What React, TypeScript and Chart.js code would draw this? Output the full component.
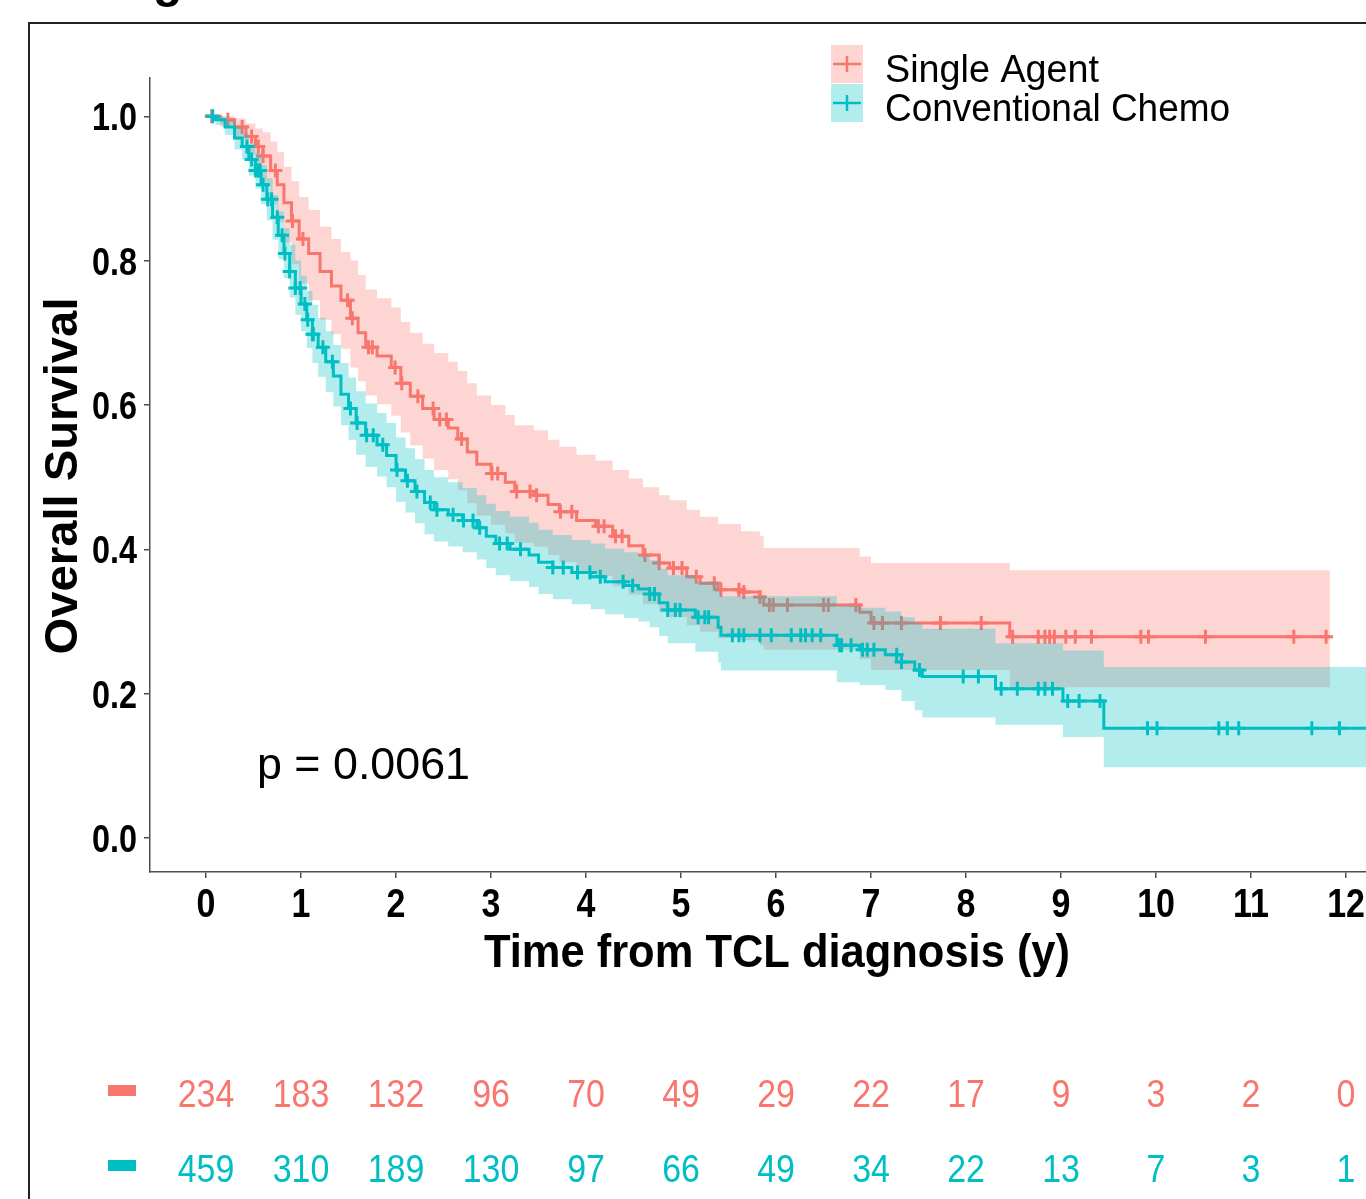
import React, { useEffect, useRef } from "react";
import { Chart, registerables } from "chart.js";

Chart.register(...registerables);

const RED = "#F8766D";
const CYAN = "#00BFC4";
const RED_FILL = "rgba(248,118,109,0.3)";
const CYAN_FILL = "rgba(0,191,196,0.3)";
const FONT = '"Liberation Sans", Arial, sans-serif';

// ---------- data ----------
const seriesNames = ["Single Agent", "Conventional Chemo"];
const xTicks = [0, 1, 2, 3, 4, 5, 6, 7, 8, 9, 10, 11, 12];
const yTicks = [0, 0.2, 0.4, 0.6, 0.8, 1.0];
const yTickLabels = ["0.0", "0.2", "0.4", "0.6", "0.8", "1.0"];
const riskSingle = [234, 183, 132, 96, 70, 49, 29, 22, 17, 9, 3, 2, 0];
const riskChemo = [459, 310, 189, 130, 97, 66, 49, 34, 22, 13, 7, 3, 1];
const pValueText = "p = 0.0061";
const xTitle = "Time from TCL diagnosis (y)";
const yTitle = "Overall Survival";

// Single Agent KM step curve (time, survival, upper CI, lower CI)
const redT = [0, 0.15, 0.3, 0.42, 0.52, 0.6, 0.68, 0.75, 0.82, 0.9, 0.98, 1.08, 1.2, 1.32, 1.42, 1.52, 1.6, 1.68, 1.8, 1.95, 2.05, 2.15, 2.28, 2.4, 2.55, 2.65, 2.75, 2.85, 3.0, 3.15, 3.25, 3.45, 3.6, 3.72, 3.9, 4.1, 4.28, 4.45, 4.6, 4.77, 4.88, 5.06, 5.2, 5.39, 5.63, 5.83, 5.87, 6.88, 7.0, 8.46, 11.83];
const redS = [1.0, 0.995, 0.985, 0.972, 0.958, 0.945, 0.925, 0.905, 0.88, 0.855, 0.83, 0.81, 0.785, 0.765, 0.745, 0.72, 0.7, 0.68, 0.668, 0.652, 0.63, 0.612, 0.595, 0.58, 0.568, 0.553, 0.535, 0.518, 0.505, 0.493, 0.48, 0.475, 0.462, 0.452, 0.44, 0.432, 0.418, 0.405, 0.392, 0.381, 0.374, 0.362, 0.353, 0.344, 0.341, 0.334, 0.323, 0.313, 0.298, 0.279, 0.279];
const redU = [1.0, 1.0, 0.997, 0.99, 0.983, 0.978, 0.965, 0.95, 0.93, 0.91, 0.888, 0.87, 0.847, 0.83, 0.812, 0.8, 0.78, 0.76, 0.748, 0.735, 0.715, 0.7, 0.685, 0.672, 0.66, 0.647, 0.63, 0.613, 0.6, 0.586, 0.572, 0.565, 0.552, 0.542, 0.531, 0.523, 0.51, 0.498, 0.486, 0.475, 0.468, 0.455, 0.445, 0.435, 0.425, 0.418, 0.402, 0.39, 0.381, 0.371, 0.371];
const redL = [1.0, 0.985, 0.968, 0.948, 0.928, 0.905, 0.878, 0.853, 0.825, 0.795, 0.768, 0.745, 0.718, 0.698, 0.678, 0.652, 0.633, 0.613, 0.601, 0.585, 0.562, 0.544, 0.526, 0.51, 0.497, 0.482, 0.464, 0.447, 0.434, 0.422, 0.409, 0.404, 0.392, 0.382, 0.37, 0.363, 0.349, 0.337, 0.324, 0.313, 0.306, 0.295, 0.286, 0.277, 0.274, 0.267, 0.261, 0.248, 0.233, 0.209, 0.209];
const redCensor = [0.06, 0.23, 0.38, 0.48, 0.55, 0.6, 0.73, 0.91, 1.02, 1.49, 1.54, 1.71, 1.75, 1.99, 2.06, 2.23, 2.39, 2.46, 2.53, 2.69, 3.01, 3.07, 3.27, 3.41, 3.48, 3.73, 3.85, 4.13, 4.19, 4.31, 4.38, 4.62, 4.77, 4.92, 5.01, 5.16, 5.35, 5.42, 5.61, 5.66, 5.83, 5.93, 5.97, 6.12, 6.5, 6.55, 6.84, 7.03, 7.12, 7.32, 7.73, 8.16, 8.49, 8.76, 8.83, 8.88, 8.93, 9.05, 9.15, 9.32, 9.84, 9.92, 10.52, 11.45, 11.79];

// Conventional Chemo KM step curve
const cyanT = [0, 0.1, 0.2, 0.3, 0.38, 0.45, 0.52, 0.58, 0.64, 0.7, 0.76, 0.82, 0.88, 0.94, 1.0, 1.06, 1.12, 1.18, 1.26, 1.34, 1.42, 1.5, 1.58, 1.68, 1.8, 1.9, 2.0, 2.1, 2.2, 2.3, 2.4, 2.55, 2.7, 2.85, 2.95, 3.05, 3.2, 3.4, 3.5, 3.65, 3.85, 4.05, 4.2, 4.4, 4.55, 4.67, 4.77, 4.86, 5.15, 5.39, 5.42, 6.64, 6.88, 7.15, 7.32, 7.46, 7.54, 8.31, 9.02, 9.45, 12.6];
const cyanS = [1.0, 0.995, 0.985, 0.97, 0.958, 0.94, 0.925, 0.905, 0.885, 0.86, 0.835, 0.81, 0.785, 0.762, 0.74, 0.718, 0.698, 0.68, 0.66, 0.64, 0.615, 0.595, 0.575, 0.558, 0.545, 0.53, 0.51, 0.495, 0.48, 0.465, 0.455, 0.448, 0.44, 0.43, 0.418, 0.408, 0.4, 0.392, 0.382, 0.375, 0.368, 0.362, 0.355, 0.35, 0.345, 0.338, 0.326, 0.316, 0.306, 0.292, 0.281, 0.267, 0.261, 0.254, 0.244, 0.233, 0.224, 0.207, 0.19, 0.152, 0.152];
const cyanU = [1.0, 1.0, 0.995, 0.985, 0.976, 0.962, 0.949, 0.932, 0.914, 0.891, 0.868, 0.845, 0.822, 0.8, 0.779, 0.758, 0.739, 0.721, 0.702, 0.683, 0.658, 0.638, 0.619, 0.602, 0.589, 0.575, 0.555, 0.54, 0.525, 0.51, 0.5, 0.493, 0.485, 0.475, 0.463, 0.453, 0.445, 0.437, 0.427, 0.42, 0.413, 0.408, 0.401, 0.396, 0.391, 0.385, 0.373, 0.364, 0.355, 0.342, 0.335, 0.322, 0.319, 0.314, 0.306, 0.298, 0.29, 0.27, 0.26, 0.237, 0.237];
const cyanL = [1.0, 0.988, 0.974, 0.954, 0.94, 0.918, 0.9, 0.878, 0.856, 0.829, 0.802, 0.776, 0.749, 0.725, 0.702, 0.679, 0.658, 0.639, 0.618, 0.598, 0.572, 0.552, 0.531, 0.514, 0.501, 0.486, 0.466, 0.451, 0.436, 0.421, 0.411, 0.404, 0.396, 0.386, 0.374, 0.364, 0.356, 0.348, 0.338, 0.331, 0.324, 0.317, 0.31, 0.305, 0.3, 0.292, 0.28, 0.27, 0.258, 0.243, 0.232, 0.216, 0.212, 0.205, 0.19, 0.177, 0.167, 0.157, 0.14, 0.098, 0.098];
const cyanCensor = [0.07, 0.43, 0.48, 0.52, 0.55, 0.57, 0.6, 0.65, 0.69, 0.75, 0.8, 0.83, 0.88, 0.94, 0.99, 1.04, 1.07, 1.12, 1.13, 1.23, 1.33, 1.52, 1.59, 1.69, 1.76, 1.86, 2.01, 2.12, 2.22, 2.36, 2.43, 2.6, 2.71, 2.81, 2.88, 3.09, 3.17, 3.31, 3.65, 3.76, 3.91, 4.04, 4.15, 4.39, 4.49, 4.67, 4.72, 4.86, 4.94, 4.99, 5.18, 5.25, 5.29, 5.54, 5.61, 5.66, 5.83, 5.95, 6.16, 6.26, 6.31, 6.38, 6.47, 6.67, 6.69, 6.79, 6.91, 6.96, 7.03, 7.27, 7.32, 7.51, 7.97, 8.13, 8.37, 8.54, 8.76, 8.83, 8.91, 9.07, 9.19, 9.41, 9.91, 10.01, 10.66, 10.75, 10.87, 11.64, 11.93];

// ---------- helpers ----------
const pts = (ts: number[], vs: number[]) => ts.map((t, i) => ({ x: t, y: vs[i] }));
const stepAt = (ts: number[], vs: number[], t: number) => {
  let v = vs[0];
  for (let i = 0; i < ts.length; i++) if (ts[i] <= t) v = vs[i];
  return v;
};
const censorPts = (cs: number[], ts: number[], vs: number[]) => cs.map((t) => ({ x: t, y: stepAt(ts, vs, t) }));

function txt(ctx: CanvasRenderingContext2D, s: string, x: number, y: number, font: string, color: string, align: CanvasTextAlign, sx: number) {
  ctx.save();
  ctx.font = font;
  ctx.fillStyle = color;
  ctx.textAlign = align;
  ctx.textBaseline = "alphabetic";
  ctx.translate(x, y);
  ctx.scale(sx, 1);
  ctx.fillText(s, 0, 0);
  ctx.restore();
}
function fitTxt(ctx: CanvasRenderingContext2D, s: string, x: number, y: number, font: string, color: string, align: CanvasTextAlign, width: number) {
  ctx.save();
  ctx.font = font;
  const w = ctx.measureText(s).width;
  ctx.restore();
  txt(ctx, s, x, y, font, color, align, width / w);
}

const overlay = {
  id: "overlay",
  beforeDraw(chart: any) {
    const ctx = chart.ctx as CanvasRenderingContext2D;
    ctx.save();
    ctx.fillStyle = "#ffffff";
    ctx.fillRect(0, 0, chart.width, chart.height);
    ctx.strokeStyle = "#222222";
    ctx.lineWidth = 2;
    ctx.strokeRect(29, 23, 3000, 3000);
    ctx.restore();
    // cut-off heading glyph at the very top
    txt(ctx, "g", 153, -3, `bold 48px ${FONT}`, "#000", "left", 1);
  },
  afterDraw(chart: any) {
    const ctx = chart.ctx as CanvasRenderingContext2D;
    const xs = chart.scales.x;
    const ys = chart.scales.y;
    const bold = (n: number) => `bold ${n}px ${FONT}`;
    const reg = (n: number) => `${n}px ${FONT}`;
    // y tick labels
    yTicks.forEach((v, i) => {
      const py = ys.getPixelForValue(v);
      txt(ctx, yTickLabels[i], 137, py + 14, bold(39), "#000", "right", 0.83);
    });
    // x tick labels
    xTicks.forEach((v) => {
      const px = xs.getPixelForValue(v);
      txt(ctx, String(v), px, 917, bold(40), "#000", "center", 0.85);
    });
    // axis titles
    fitTxt(ctx, xTitle, 777, 967, bold(47), "#000", "center", 586);
    ctx.save();
    ctx.translate(77, 476);
    ctx.rotate(-Math.PI / 2);
    fitTxt(ctx, yTitle, 0, 0, bold(46), "#000", "center", 357);
    ctx.restore();
    // p value
    fitTxt(ctx, pValueText, 257, 779, reg(44), "#000", "left", 213);
    // legend
    const legendItems = [
      { name: seriesNames[0], line: RED, fill: RED_FILL, top: 45 },
      { name: seriesNames[1], line: CYAN, fill: CYAN_FILL, top: 84 },
    ];
    legendItems.forEach((it) => {
      ctx.save();
      ctx.fillStyle = it.fill;
      ctx.fillRect(831, it.top, 32, 38);
      ctx.strokeStyle = it.line;
      ctx.lineWidth = 2.5;
      const cy = it.top + 19;
      ctx.beginPath();
      ctx.moveTo(833, cy);
      ctx.lineTo(861, cy);
      ctx.moveTo(847, cy - 8);
      ctx.lineTo(847, cy + 8);
      ctx.stroke();
      ctx.restore();
      const w = it.name === seriesNames[0] ? 214 : 345;
      fitTxt(ctx, it.name, 885, it.top + 37, reg(38), "#000", "left", w);
    });
    // risk table
    ctx.save();
    ctx.fillStyle = RED;
    ctx.fillRect(108, 1085, 28, 11);
    ctx.fillStyle = CYAN;
    ctx.fillRect(108, 1160, 28, 11);
    ctx.restore();
    xTicks.forEach((v, i) => {
      const px = xs.getPixelForValue(v);
      txt(ctx, String(riskSingle[i]), px, 1107, reg(39), RED, "center", 0.87);
      txt(ctx, String(riskChemo[i]), px, 1182, reg(39), CYAN, "center", 0.87);
    });
  },
};

export default function App() {
  const ref = useRef<HTMLCanvasElement | null>(null);
  useEffect(() => {
    if (!ref.current) return;
    const band = (data: any, fill: string | boolean, order: number) => ({
      type: "line" as const,
      data,
      borderWidth: 0,
      borderColor: "rgba(0,0,0,0)",
      backgroundColor: fill === false ? "rgba(0,0,0,0)" : (fill as string),
      fill: fill === false ? false : "+1",
      stepped: true,
      pointRadius: 0,
      order,
    });
    const curve = (data: any, color: string, order: number) => ({
      type: "line" as const,
      data,
      borderColor: color,
      borderWidth: 3,
      stepped: true,
      pointRadius: 0,
      fill: false,
      order,
    });
    const cens = (data: any, color: string, order: number) => ({
      type: "line" as const,
      data,
      showLine: false,
      pointStyle: "cross",
      pointRadius: 7,
      pointBorderWidth: 3,
      pointBorderColor: color,
      pointBackgroundColor: color,
      fill: false,
      order,
    });
    const axisColor = "#4d4d4d";
    const chart = new Chart(ref.current, {
      type: "line",
      data: {
        datasets: [
          band(pts(redT, redU), RED_FILL, 8) as any,
          band(pts(redT, redL), false, 7) as any,
          curve(pts(redT, redS), RED, 6) as any,
          cens(censorPts(redCensor, redT, redS), RED, 5) as any,
          band(pts(cyanT, cyanU), CYAN_FILL, 4) as any,
          band(pts(cyanT, cyanL), false, 3) as any,
          curve(pts(cyanT, cyanS), CYAN, 2) as any,
          cens(censorPts(cyanCensor, cyanT, cyanS), CYAN, 1) as any,
        ],
      },
      options: {
        animation: false,
        responsive: false,
        events: [],
        layout: { autoPadding: false, padding: { left: 144, top: 78, right: 0, bottom: 321 } },
        plugins: {
          legend: { display: false },
          tooltip: { enabled: false },
          filler: { propagate: false },
        },
        scales: {
          x: {
            type: "linear",
            min: -0.59,
            max: 12.21,
            afterFit: (s: any) => {
              s.height = 6;
            },
            ticks: { display: false, stepSize: 1, includeBounds: false },
            grid: { drawOnChartArea: false, drawTicks: true, tickLength: 6, color: axisColor, lineWidth: 1.5 },
            border: { display: true, color: axisColor, width: 1.5 },
          },
          y: {
            type: "linear",
            min: -0.047,
            max: 1.053,
            afterFit: (s: any) => {
              s.width = 6;
            },
            ticks: { display: false, stepSize: 0.2, includeBounds: false },
            grid: { drawOnChartArea: false, drawTicks: true, tickLength: 6, color: axisColor, lineWidth: 1.5 },
            border: { display: true, color: axisColor, width: 1.5 },
          },
        },
      } as any,
      plugins: [overlay],
    });
    return () => chart.destroy();
  }, []);
  return (
    <div style={{ position: "absolute", left: 0, top: 0, width: 1366, height: 1199, overflow: "hidden", background: "#fff" }}>
      <canvas ref={ref} width={1366} height={1199} style={{ display: "block", width: 1366, height: 1199 }} />
    </div>
  );
}
